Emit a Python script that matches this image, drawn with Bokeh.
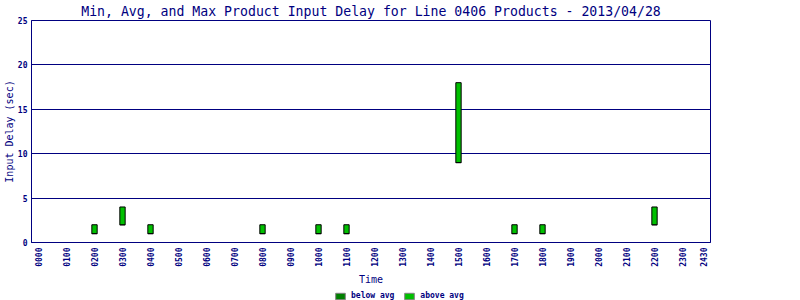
import math
from bokeh.plotting import figure
from bokeh.layouts import column
from bokeh.models import (Range1d, FixedTicker, ColumnDataSource, Legend, LegendItem)
from bokeh.embed import file_html
from bokeh.resources import INLINE

# ---- data ----
hours = [2, 3, 4, 8, 10, 11, 15, 17, 18, 22]
min_delay = [1, 2, 1, 1, 1, 1, 9, 1, 1, 2]
avg_delay = [1, 2, 1, 1, 1, 1, 9, 1, 1, 2]
max_delay = [2, 4, 2, 2, 2, 2, 18, 2, 2, 4]

tick_positions = list(range(24)) + [23.75]
tick_labels = ["%02d00" % h for h in range(24)] + ["2430"]
y_ticks = [0, 5, 10, 15, 20, 25]
legend_labels = ["below avg", "above avg"]

title_text = "Min, Avg, and Max Product Input Delay for Line 0406 Products - 2013/04/28"

NAVY = "#000080"
DARK_GREEN = "#008000"
BRIGHT_GREEN = "#00c000"
FONT = "DejaVu Sans Mono"

p = figure(width=800, height=287, output_backend="svg", toolbar_location=None,
           x_range=Range1d(-0.25, 24), y_range=Range1d(0, 25),
           min_border_left=31, min_border_right=90, min_border_top=20,
           min_border_bottom=45)

p.title.text = title_text
p.title.align = "center"
p.title.text_font = FONT
p.title.text_font_size = "13.2px"
p.title.text_font_style = "normal"
p.title.text_color = NAVY
p.title.standoff = 3
p.title.offset = 0

src = ColumnDataSource(dict(x=hours, lo=min_delay, mid=avg_delay, hi=max_delay))
p.vbar(x="x", bottom="lo", top="mid", width=0.19, source=src,
       fill_color=DARK_GREEN, line_color="black", line_width=1)
p.vbar(x="x", bottom="mid", top="hi", width=0.19, source=src,
       fill_color=BRIGHT_GREEN, line_color="black", line_width=1)

# axes
xa = p.xaxis[0]
xa.ticker = FixedTicker(ticks=tick_positions)
xa.major_label_overrides = {t: l for t, l in zip(tick_positions, tick_labels)}
xa.major_label_orientation = math.pi / 2
xa.axis_label = "Time"
ya = p.yaxis[0]
ya.ticker = FixedTicker(ticks=y_ticks)
ya.axis_label = "Input Delay (sec)"

for ax in (xa, ya):
    ax.axis_line_color = NAVY
    ax.axis_line_width = 1
    ax.major_tick_out = 0
    ax.major_tick_in = 0
    ax.minor_tick_out = 0
    ax.minor_tick_in = 0
    ax.major_label_text_font = FONT
    ax.major_label_text_font_size = "8px"
    ax.major_label_text_font_style = "bold"
    ax.major_label_text_color = NAVY
    ax.axis_label_text_font = FONT
    ax.axis_label_text_font_size = "10px"
    ax.axis_label_text_font_style = "normal"
    ax.axis_label_text_color = NAVY
xa.major_label_standoff = 5
xa.axis_label_standoff = 4
ya.major_label_standoff = 4
ya.axis_label_standoff = 0

p.xgrid.grid_line_color = None
p.ygrid.grid_line_color = NAVY
p.ygrid.grid_line_width = 1
p.outline_line_color = NAVY
p.outline_line_width = 1
p.outline_line_alpha = 1

# ---- legend strip ----
lg = figure(width=800, height=13, output_backend="svg", toolbar_location=None,
            x_range=Range1d(-0.25, 24), y_range=Range1d(0, 25),
            min_border=0, outline_line_color=None)
lg.axis.visible = False
lg.grid.visible = False
r_below = lg.vbar(x="x", bottom="lo", top="hi", width=0.19, source=src,
                  fill_color=DARK_GREEN, line_color="#808080", line_width=1,
                  visible=False)
r_above = lg.vbar(x="x", bottom="lo", top="hi", width=0.19, source=src,
                  fill_color=BRIGHT_GREEN, line_color="#808080", line_width=1,
                  visible=False)
legend = Legend(items=[LegendItem(label=legend_labels[0], renderers=[r_below]),
                       LegendItem(label=legend_labels[1], renderers=[r_above])],
                orientation="horizontal", location=(303, 0),
                label_text_font=FONT, label_text_font_size="8px",
                label_text_font_style="bold", label_text_color=NAVY,
                glyph_width=12, glyph_height=8, label_standoff=5, spacing=9,
                label_height=8, padding=0, margin=0, border_line_color=None,
                background_fill_alpha=0, inactive_fill_alpha=0)
lg.add_layout(legend, "center")

open("out.html", "w").write(file_html(column(p, lg, spacing=0), INLINE))
